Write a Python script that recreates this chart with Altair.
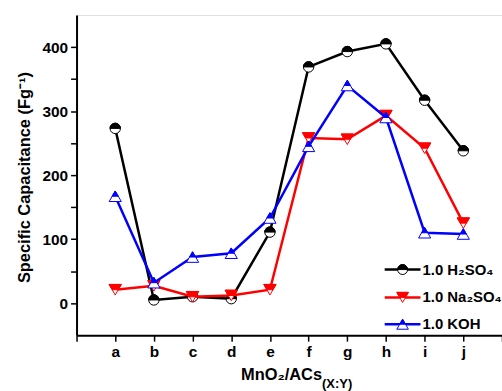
import altair as alt
import pandas as pd

categories = ["a", "b", "c", "d", "e", "f", "g", "h", "i", "j"]
series_names = ["1.0 H₂SO₄", "1.0 Na₂SO₄", "1.0 KOH"]
h2so4 = [273, 5, 10, 7, 111, 369, 393, 405, 317, 238]
na2so4 = [21, 27, 10, 12, 21, 258, 256, 293, 242, 125]
koh = [167, 32, 72, 78, 133, 245, 340, 290, 110, 108]
colors = ["#000000", "#ff0000", "#0000ff"]
y_ticks = [0, 50, 100, 150, 200, 250, 300, 350, 400]
x_ticks = list(range(0, 12))

# shapes: full outline and top-half fill
shapes_full = ["circle", "triangle-down", "triangle-up"]
shapes_half = [
    "M-1,0 A1,1 0 0 1 1,0 Z",
    "M-1,-0.866 L1,-0.866 L0.5,0 L-0.5,0 Z",
    "M0,-0.866 L0.5,0 L-0.5,0 Z",
]
sizes = [110, 150, 150]

rows = []
for name, vals in zip(series_names, [h2so4, na2so4, koh]):
    for i, (c, v) in enumerate(zip(categories, vals)):
        rows.append({"series": name, "cat": c, "x": i + 1, "y": v})
df = pd.DataFrame(rows)

label_expr = "[''," + ",".join(f"'{c}'" for c in categories) + ",''][datum.value]"

xs = alt.X("x:Q", scale=alt.Scale(domain=[0, 11], nice=False, zero=False),
           axis=alt.Axis(values=x_ticks, labelExpr=label_expr, title=None,
                         grid=False, tickSize=6, tickWidth=1.5, tickColor="black",
                         domainColor="black", domainWidth=2, labelFont="Liberation Sans",
                         labelFontWeight="bold", labelFontSize=15.5, labelColor="black",
                         labelPadding=3, labelAngle=0, labelOverlap=False, labelBound=False))
ys = alt.Y("y:Q", scale=alt.Scale(domain=[-50, 450], nice=False, zero=False),
           axis=alt.Axis(values=y_ticks,
                         labelExpr="datum.value % 100 == 0 ? datum.value : ''",
                         title="Specific Capacitance (Fg⁻¹)", titleFont="Liberation Sans",
                         titleFontWeight="bold", titleFontSize=16.5, titleColor="black",
                         titlePadding=9, titleY=163,
                         grid=False, tickSize=6, tickWidth=1.5, tickColor="black",
                         domainColor="black", domainWidth=2, labelFont="Liberation Sans",
                         labelFontWeight="bold", labelFontSize=15.5, labelColor="black",
                         labelPadding=3, labelOverlap=False))

layers = []
for k, name in enumerate(series_names):
    d = df[df.series == name]
    base = alt.Chart(d)
    line = base.mark_line(color=colors[k], strokeWidth=2.5).encode(x=xs, y=ys)
    full = base.mark_point(shape=shapes_full[k], size=sizes[k], filled=True, fill="white",
                           stroke=colors[k], strokeWidth=1, opacity=1).encode(x=xs, y=ys)
    half = base.mark_point(shape=shapes_half[k], size=sizes[k], filled=True, fill=colors[k],
                           stroke=colors[k], strokeWidth=1, opacity=1).encode(x=xs, y=ys)
    layers += [line, full, half]

# legend (manual)
leg_y = [256, 284, 311]
leg = pd.DataFrame({"series": series_names, "ly": leg_y, "k": [0, 1, 2]})
for k, name in enumerate(series_names):
    ld = leg[leg.series == name]
    b = alt.Chart(ld)
    layers.append(b.mark_rule(color=colors[k], strokeWidth=2.5).encode(
        x=alt.value(310), x2=alt.value(346), y=alt.Y("ly:Q", scale=None)))
    layers.append(b.mark_point(shape=shapes_full[k], size=sizes[k] * 0.9, filled=True, fill="white",
                               stroke=colors[k], strokeWidth=1, opacity=1).encode(
        x=alt.value(328), y=alt.Y("ly:Q", scale=None)))
    layers.append(b.mark_point(shape=shapes_half[k], size=sizes[k] * 0.9, filled=True, fill=colors[k],
                               stroke=colors[k], strokeWidth=1, opacity=1).encode(
        x=alt.value(328), y=alt.Y("ly:Q", scale=None)))
    layers.append(b.mark_text(align="left", baseline="middle", font="Liberation Sans",
                              fontWeight="bold", fontSize=15, color="black").encode(
        x=alt.value(348), y=alt.Y("ly:Q", scale=None), text="series:N"))

# x title
t1 = pd.DataFrame({"t": ["MnO₂/ACs"]})
t2 = pd.DataFrame({"t": ["(X:Y)"]})
layers.append(alt.Chart(t1).mark_text(align="right", baseline="alphabetic", font="Liberation Sans",
                                      fontWeight="bold", fontSize=16.5, color="black").encode(
    x=alt.value(247), y=alt.value(367), text="t:N"))
layers.append(alt.Chart(t2).mark_text(align="left", baseline="alphabetic", font="Liberation Sans",
                                      fontWeight="bold", fontSize=13, color="black").encode(
    x=alt.value(247), y=alt.value(375), text="t:N"))

chart = alt.layer(*layers).properties(
    width=428, height=322,
    autosize=alt.AutoSizeParams(type="none"),
    padding={"left": 77, "top": 14, "right": 0, "bottom": 55},
).configure_view(stroke="black", strokeWidth=2).configure_axis(
    labelOverlap=False).configure(background="white")

chart.save("out.html", embed_options={"renderer": "svg", "actions": False})
